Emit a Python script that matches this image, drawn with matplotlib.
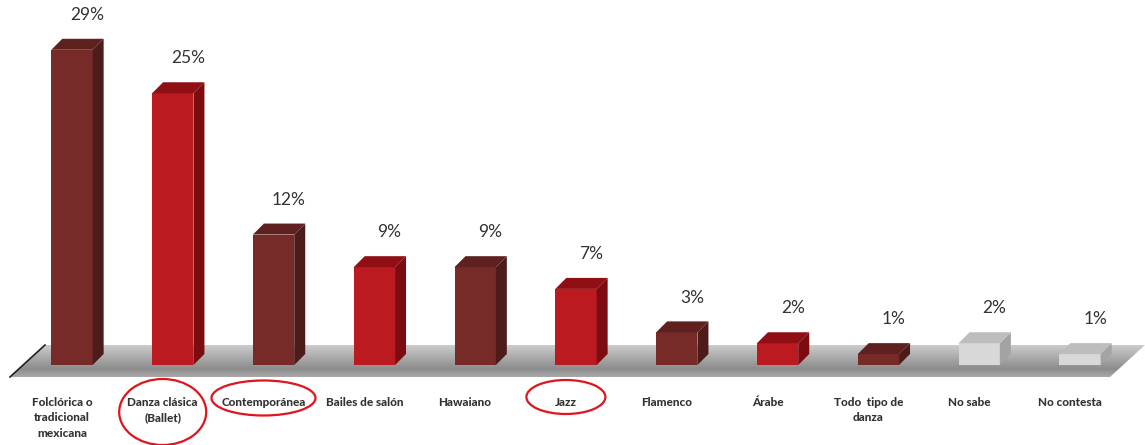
import numpy as np
import matplotlib.pyplot as plt
from matplotlib.patches import Polygon, Ellipse

# survey results: preferred dance style
categories = ['Folclórica o\ntradicional\nmexicana', 'Danza clásica\n(Ballet)',
              'Contemporánea', 'Bailes de salón', 'Hawaiano', 'Jazz',
              'Flamenco', 'Árabe', 'Todo  tipo de\ndanza', 'No sabe',
              'No contesta']
values = [29, 25, 12, 9, 9, 7, 3, 2, 1, 2, 1]
groups = ['m', 'r', 'm', 'r', 'm', 'r', 'm', 'r', 'm', 'g', 'g']
circled = [1, 2, 5]

# face colours per group: front, side, top
faces = {'m': ('#772b28', '#4d1b19', '#5e211f'),
         'r': ('#bb1a21', '#7c0c10', '#900f15'),
         'g': ('#d8d8d8', '#a3a3a3', '#bdbdbd')}

plt.rcParams['font.family'] = ['Lato', 'DejaVu Sans']

fig = plt.figure(figsize=(11.45, 4.45), dpi=100)
ax = fig.add_axes([0, 0, 1, 1])
ax.set_xlim(-0.714, 10.645)
ax.set_ylim(-7.36, 33.58)
ax.axis('off')

px_x = 100.8   # pixels per category
px_y = 10.87   # pixels per percent
w = 0.41
dx, dy = 11 / px_x, 11 / px_y

# grey floor under the bars
fl_lo, fl_hi = -12 / px_y, 20 / px_y
floor = [(-62 / px_x, fl_lo), (-27 / px_x, fl_hi),
         (1073 / px_x, fl_hi), (1038 / px_x, fl_lo)]
floor_patch = Polygon(floor, closed=True, facecolor='none', edgecolor='none')
ax.add_patch(floor_patch)
grad = np.interp(np.linspace(0, 1, 64), [0, 0.35, 0.75, 1.0],
                 [0.80, 0.68, 0.55, 0.66])[:, None]
im = ax.imshow(np.repeat(grad, 2, axis=1), cmap='gray', vmin=0, vmax=1,
               extent=(-62 / px_x, 1073 / px_x, fl_lo, fl_hi),
               aspect='auto', origin='upper', zorder=1)
im.set_clip_path(floor_patch)
ax.plot([floor[0][0], floor[1][0]], [floor[0][1], floor[1][1]],
        color='#222222', lw=1.2, zorder=2)

x = np.arange(len(values))
for i, (v, g) in enumerate(zip(values, groups)):
    front, side, top = faces[g]
    ax.bar(x[i], v, width=w, color=front, zorder=3)
    xr = x[i] + w / 2
    xl = x[i] - w / 2
    ax.add_patch(Polygon([(xr, 0), (xr, v), (xr + dx, v + dy), (xr + dx, dy)],
                         closed=True, facecolor=side, edgecolor='none',
                         zorder=3))
    ax.add_patch(Polygon([(xl, v), (xr, v), (xr + dx, v + dy),
                          (xl + dx, v + dy)],
                         closed=True, facecolor=top, edgecolor='none',
                         zorder=3))
    ax.text(x[i] + 0.15, v + 3.2, f'{v}%', ha='center', va='center',
            fontsize=12.5, color='#333333')
    ax.text(x[i] - 0.1, -2.9, categories[i], ha='center', va='top',
            fontsize=8.5, fontweight='black', color='#333333',
            linespacing=1.55)

# red rings around highlighted categories (size in pixels)
ring_w = [87, 104, 79]
ring_h = [66, 35, 34]
ring_y = [412, 398, 397]
for i, rw, rh, ry in zip(circled, ring_w, ring_h, ring_y):
    ax.add_patch(Ellipse((x[i] - 0.1, (365 - ry) / px_y), rw / px_x,
                         rh / px_y, fill=False, edgecolor='#e0141c', lw=1.6,
                         zorder=4))

fig.savefig('out.png', dpi=100)
